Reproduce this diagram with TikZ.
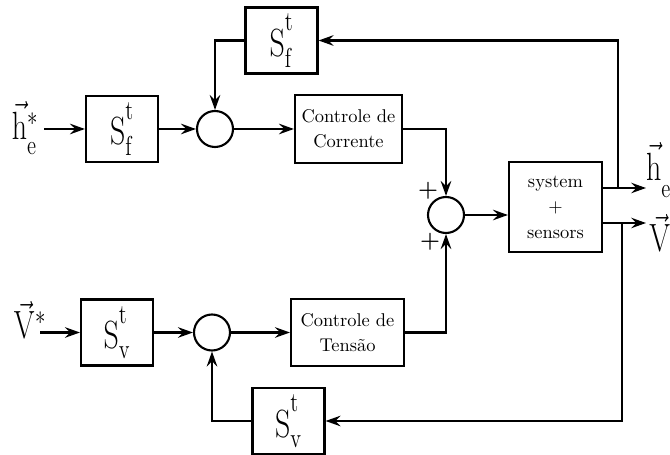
\documentclass[tikz,border=0pt]{standalone}
\usepackage{amsmath}
\usepackage{tikz}
\usetikzlibrary{arrows.meta}

\newcommand{\bigsym}[1]{\scalebox{0.82}[1.08]{$#1$}}
\newcommand{\Smat}[1]{\mathrm{S}^{\raisebox{6pt}{$\scriptstyle\mathrm{t}$}}_{\mathrm{#1}}}

\begin{document}
\begin{tikzpicture}[
    blocco/.style={draw, very thick, minimum width=1.44cm, minimum height=1.32cm, inner sep=0pt, font=\fontsize{20.74}{24}\selectfont},
    testo/.style={draw, very thick, inner sep=0pt, align=center, font=\fontsize{10.5}{14}\selectfont},
    somma/.style={draw, very thick, circle, minimum size=0.72cm, inner sep=0pt},
    segnale/.style={inner sep=0pt, font=\fontsize{20.74}{24}\selectfont},
    segno/.style={inner sep=0pt, font=\fontsize{13}{13}\bfseries},
    freccia/.style={very thick, -{Stealth[length=8.5pt,width=6pt,inset=3pt]}}
  ]
  \useasboundingbox (0,0) rectangle (13.4,9.1);

  % ramo di corrente
  \node[segnale] (hrif) at (0.50,6.54) {\bigsym{\vec{\mathrm{h}}^{*}_{\raisebox{-3pt}{$\scriptstyle\mathrm{e}$}}}};
  \coordinate (hin) at (0.88,6.52);
  \node[blocco] (sfin) at (2.44,6.52) {\bigsym{\Smat{f}}};
  \node[somma] (sum1) at (4.30,6.52) {};
  \node[testo, minimum width=2.14cm, minimum height=1.36cm] (corr) at (6.97,6.52) {Controle de\\Corrente};
  \node[blocco] (sffb) at (5.63,8.29) {\bigsym{\Smat{f}}};

  % ramo di tensione
  \node[segnale] (vrif) at (0.60,2.70) {\bigsym{\vec{\mathrm{V}}^{*}}};
  \coordinate (vin) at (0.80,2.45);
  \node[blocco] (svin) at (2.34,2.45) {\bigsym{\Smat{v}}};
  \node[somma] (sum2) at (4.24,2.45) {};
  \node[testo, minimum width=2.26cm, minimum height=1.34cm] (tens) at (6.95,2.45) {Controle de\\Tensão};
  \node[blocco] (svfb) at (5.77,0.68) {\bigsym{\Smat{v}}};

  % sistema
  \node[somma] (sum3) at (8.92,4.80) {};
  \node[segno] (piu1) at (8.56,5.28) {+};
  \node[segno] (piu2) at (8.60,4.26) {+};
  \node[testo, minimum width=1.86cm, minimum height=1.80cm, font=\fontsize{10.5}{14.5}\selectfont] (sys) at (11.11,4.96) {system\\+\\sensors};

  % uscite
  \coordinate (hout) at (12.92,5.34);
  \coordinate (vout) at (12.92,4.64);
  \coordinate (htap) at (12.36,5.34);
  \coordinate (vtap) at (12.44,4.64);
  \node[segnale] (hlab) at (13.17,5.70) {\bigsym{\vec{\mathrm{h}}_{\raisebox{-6pt}{$\scriptstyle\mathrm{e}$}}}};
  \node[segnale] (vlab) at (13.20,4.44) {\bigsym{\vec{\mathrm{V}}}};

  % collegamenti
  \draw[freccia] (hin) -- (sfin);
  \draw[freccia] (sfin) -- (sum1);
  \draw[freccia] (sum1) -- (corr);
  \draw[freccia] (sffb.west) -| (sum1.north);
  \draw[freccia] (corr.east) -| (sum3.north);
  \draw[freccia] (vin) -- (svin);
  \draw[freccia] (svin) -- (sum2);
  \draw[freccia] (sum2) -- (tens);
  \draw[freccia] (svfb.west) -| (sum2.south);
  \draw[freccia] (tens.east) -| (sum3.south);
  \draw[freccia] (sum3) -- (sum3 -| sys.west);
  \draw[freccia] (sys.east |- hout) -- (hout);
  \draw[freccia] (sys.east |- vout) -- (vout);

  % retroazioni
  \draw[freccia] (htap) |- (sffb.east);
  \draw[freccia] (vtap) |- (svfb.east);
\end{tikzpicture}
\end{document}
